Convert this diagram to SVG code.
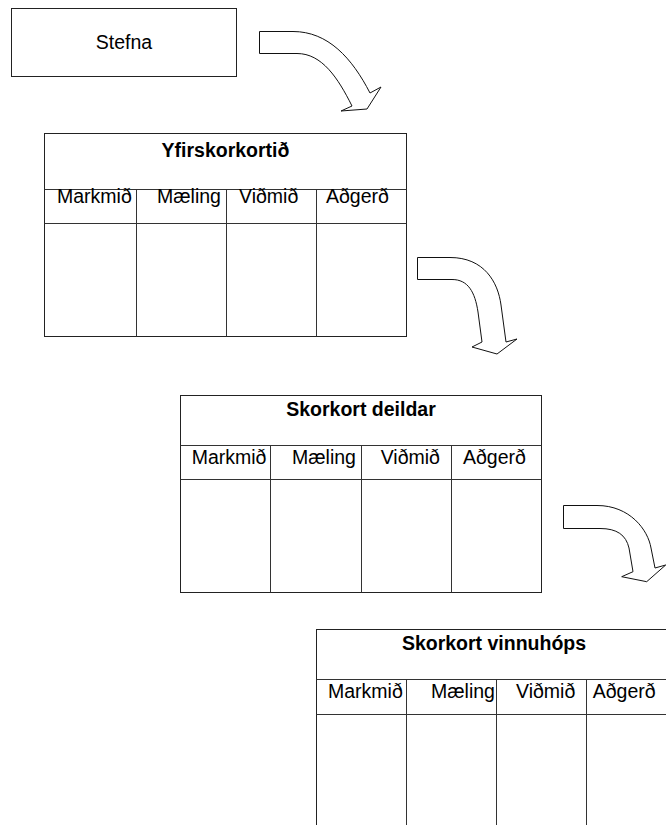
<svg xmlns="http://www.w3.org/2000/svg" width="666" height="825" viewBox="0 0 666 825">
<style>
.box{fill:#fff;stroke:#222;stroke-width:1}
.ln{stroke:#333;stroke-width:1;fill:none}
.arr{fill:#fff;stroke:#111;stroke-width:1;stroke-linejoin:miter}
.t{font-family:"Liberation Sans",Arial,sans-serif;font-size:19.5px;fill:#000}
.b{font-weight:bold;text-anchor:middle}
</style>
<rect width="666" height="825" fill="#fff"/>
<g id="stefna">
<rect class="box" x="11.5" y="8.5" width="225" height="68"/>
<text class="t" x="124" y="49" text-anchor="middle">Stefna</text>
</g>
<g id="yfirskorkortid">
<rect class="box" x="44.5" y="133.5" width="362" height="203"/>
<line class="ln" x1="44.5" y1="189.5" x2="406.5" y2="189.5"/>
<line class="ln" x1="44.5" y1="223.5" x2="406.5" y2="223.5"/>
<line class="ln" x1="136.5" y1="189.5" x2="136.5" y2="336.5"/>
<line class="ln" x1="226.5" y1="189.5" x2="226.5" y2="336.5"/>
<line class="ln" x1="316.5" y1="189.5" x2="316.5" y2="336.5"/>
<text class="t b" x="225.5" y="157">Yfirskorkortið</text>
<text class="t" x="57" y="203">Markmið</text>
<text class="t" x="157" y="203">Mæling</text>
<text class="t" x="239" y="203">Viðmið</text>
<text class="t" x="326" y="203">Aðgerð</text>
</g>
<g id="skorkort-deildar">
<rect class="box" x="180.5" y="395.5" width="361" height="197"/>
<line class="ln" x1="180.5" y1="445.5" x2="541.5" y2="445.5"/>
<line class="ln" x1="180.5" y1="479.5" x2="541.5" y2="479.5"/>
<line class="ln" x1="270.5" y1="445.5" x2="270.5" y2="592.5"/>
<line class="ln" x1="361.5" y1="445.5" x2="361.5" y2="592.5"/>
<line class="ln" x1="451.5" y1="445.5" x2="451.5" y2="592.5"/>
<text class="t b" x="361" y="416">Skorkort deildar</text>
<text class="t" x="191.7" y="463.5">Markmið</text>
<text class="t" x="292" y="463.5">Mæling</text>
<text class="t" x="380.7" y="463.5">Viðmið</text>
<text class="t" x="463" y="463.5">Aðgerð</text>
</g>
<g id="skorkort-vinnuhops">
<rect class="box" x="316.5" y="629.5" width="362" height="220"/>
<line class="ln" x1="316.5" y1="679.5" x2="678.5" y2="679.5"/>
<line class="ln" x1="316.5" y1="714.5" x2="678.5" y2="714.5"/>
<line class="ln" x1="406.5" y1="679.5" x2="406.5" y2="825"/>
<line class="ln" x1="496.5" y1="679.5" x2="496.5" y2="825"/>
<line class="ln" x1="586.5" y1="679.5" x2="586.5" y2="825"/>
<text class="t b" x="494" y="649.5">Skorkort vinnuhóps</text>
<text class="t" x="328" y="697.5">Markmið</text>
<text class="t" x="431" y="697.5">Mæling</text>
<text class="t" x="516" y="697.5">Viðmið</text>
<text class="t" x="592.7" y="697.5">Aðgerð</text>
</g>
<g id="connectors">
<path class="arr" d="M259.5,31.5 L293,31.5 C328,31.5 352,58 370,93 L381,87 L367,109 L341,111 L352,106 C338,78 322,53.5 297,53.5 L259.5,53.5 Z"/>
<path class="arr" d="M417.5,257.5 L450,257.5 C484,257.5 498,282 501,305 L506,342 L517,339 L497,354 L472,347 L482,342 L478,312 C475,292 468,279.5 452,279.5 L417.5,279.5 Z"/>
<path class="arr" d="M563.5,505.5 L597,505.5 C630,505.5 648,530 651,548 L655,568 L665.7,565 L646.7,581.7 L621.7,576.7 L633,571.7 L629,548 C626,535 617,528.5 600,528.5 L563.5,528.5 Z"/>
</g>
</svg>
